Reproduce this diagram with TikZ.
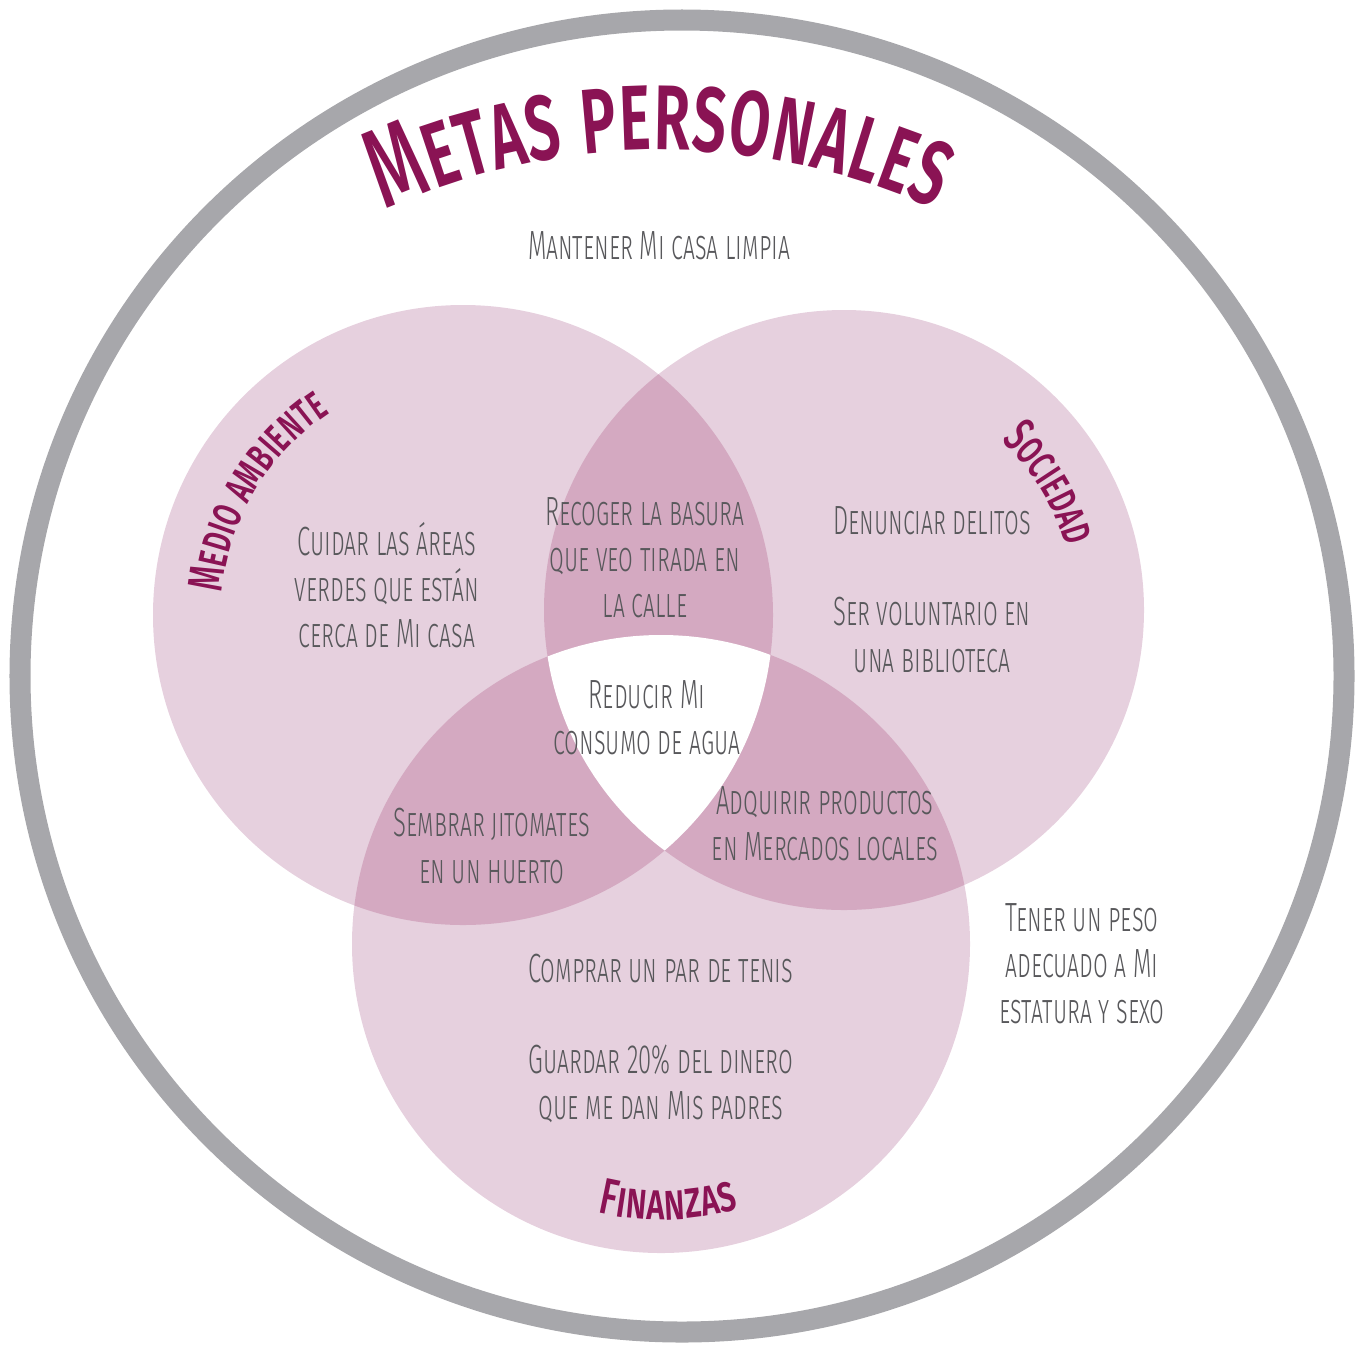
\documentclass[tikz,border=0pt]{standalone}
\usepackage{fontspec}
\usepackage{xcolor}
\usetikzlibrary{decorations.text}
\setmainfont{Fira Sans Light}[Letters=SmallCaps, FakeStretch=0.585]
\newfontfamily\titlefont{Fira Sans Medium}[Letters=SmallCaps, FakeStretch=0.61]
\newfontfamily\labelfont{Fira Sans Medium}[Letters=SmallCaps, FakeStretch=0.62]
\newfontfamily\labelfontancha{Fira Sans Medium}[Letters=SmallCaps, FakeStretch=0.7]
\definecolor{anillo}{HTML}{A7A7AB}
\definecolor{rosa}{HTML}{E6D0DE}
\definecolor{rosaosc}{HTML}{D4A9C1}
\definecolor{titulo}{HTML}{8A1354}
\definecolor{texto}{HTML}{58585B}

\begin{document}
\begin{tikzpicture}[
    x=0.01cm, y=-0.01cm,
    meta/.style={text=texto, align=center, inner sep=0pt,
                 font=\fontsize{11.6}{13.1}\selectfont},
    zona/.style={fill=rosa},
    cruce/.style={fill=rosaosc},
    rotulo/.style={decorate, decoration={text along path, text align=center,
                   text color=titulo, text={|\labelfont\fontsize{14}{16}\selectfont|#1}}},
]
\useasboundingbox (0,0) rectangle (1364,1348);

% Circulos
\def\circMA{(463,615) circle[radius=310]}
\def\circSO{(844,610) circle[radius=300]}
\def\circFI{(661,944) circle[radius=309]}

\fill[zona] \circMA;
\fill[zona] \circSO;
\fill[zona] \circFI;
\begin{scope}
    \clip \circMA;
    \fill[cruce] \circSO;
    \fill[cruce] \circFI;
\end{scope}
\begin{scope}
    \clip \circSO;
    \fill[cruce] \circFI;
\end{scope}
\begin{scope}
    \clip \circMA;
    \clip \circSO;
    \fill[white] \circFI;
\end{scope}

% Anillo exterior
\draw[anillo, line width=2.1mm] (682,676) ellipse[x radius=662, y radius=656];

% Titulo
\path[decorate, decoration={text along path, text align=center, text color=titulo,
      text={|\titlefont\fontsize{32}{36}\selectfont|Metas personales}}]
    (660,816) ++(200:666) arc[start angle=200, end angle=340, radius=666];

% Rotulos de los circulos
\path[rotulo=Medio ambiente] (463,615) ++(176:242) arc[start angle=176, end angle=246, radius=242];
\path[rotulo=Sociedad] (844,610) ++(298:231) arc[start angle=298, end angle=359, radius=231];
\path[decorate, decoration={text along path, text align=center, text color=titulo,
      text={|\labelfontancha\fontsize{14.5}{16}\selectfont|Finanzas}}]
    (661,944) ++(120:276) arc[start angle=120, end angle=57, radius=276];

% Metas
\node[meta] (casa) at (659,246) {Mantener Mi casa limpia};
\node[meta] (areas) at (387,585) {Cuidar las áreas\\verdes que están\\cerca de Mi casa};
\node[meta] (basura) at (645,558) {Recoger la basura\\que veo tirada en\\la calle};
\node[meta] (delitos) at (932,521) {Denunciar delitos};
\node[meta] (biblio) at (932,635) {Ser voluntario en\\una biblioteca};
\node[meta] (agua) at (647,718) {Reducir Mi\\consumo de agua};
\node[meta] (huerto) at (492,846) {Sembrar jitomates\\en un huerto};
\node[meta] (locales) at (825,824) {Adquirir productos\\en Mercados locales};
\node[meta] (tenis) at (661,969) {Comprar un par de tenis};
\node[meta] (ahorro) at (661,1084) {Guardar 20\% del dinero\\que me dan Mis padres};
\node[meta] (peso) at (1082,964) {Tener un peso\\adecuado a Mi\\estatura y sexo};

\end{tikzpicture}
\end{document}
